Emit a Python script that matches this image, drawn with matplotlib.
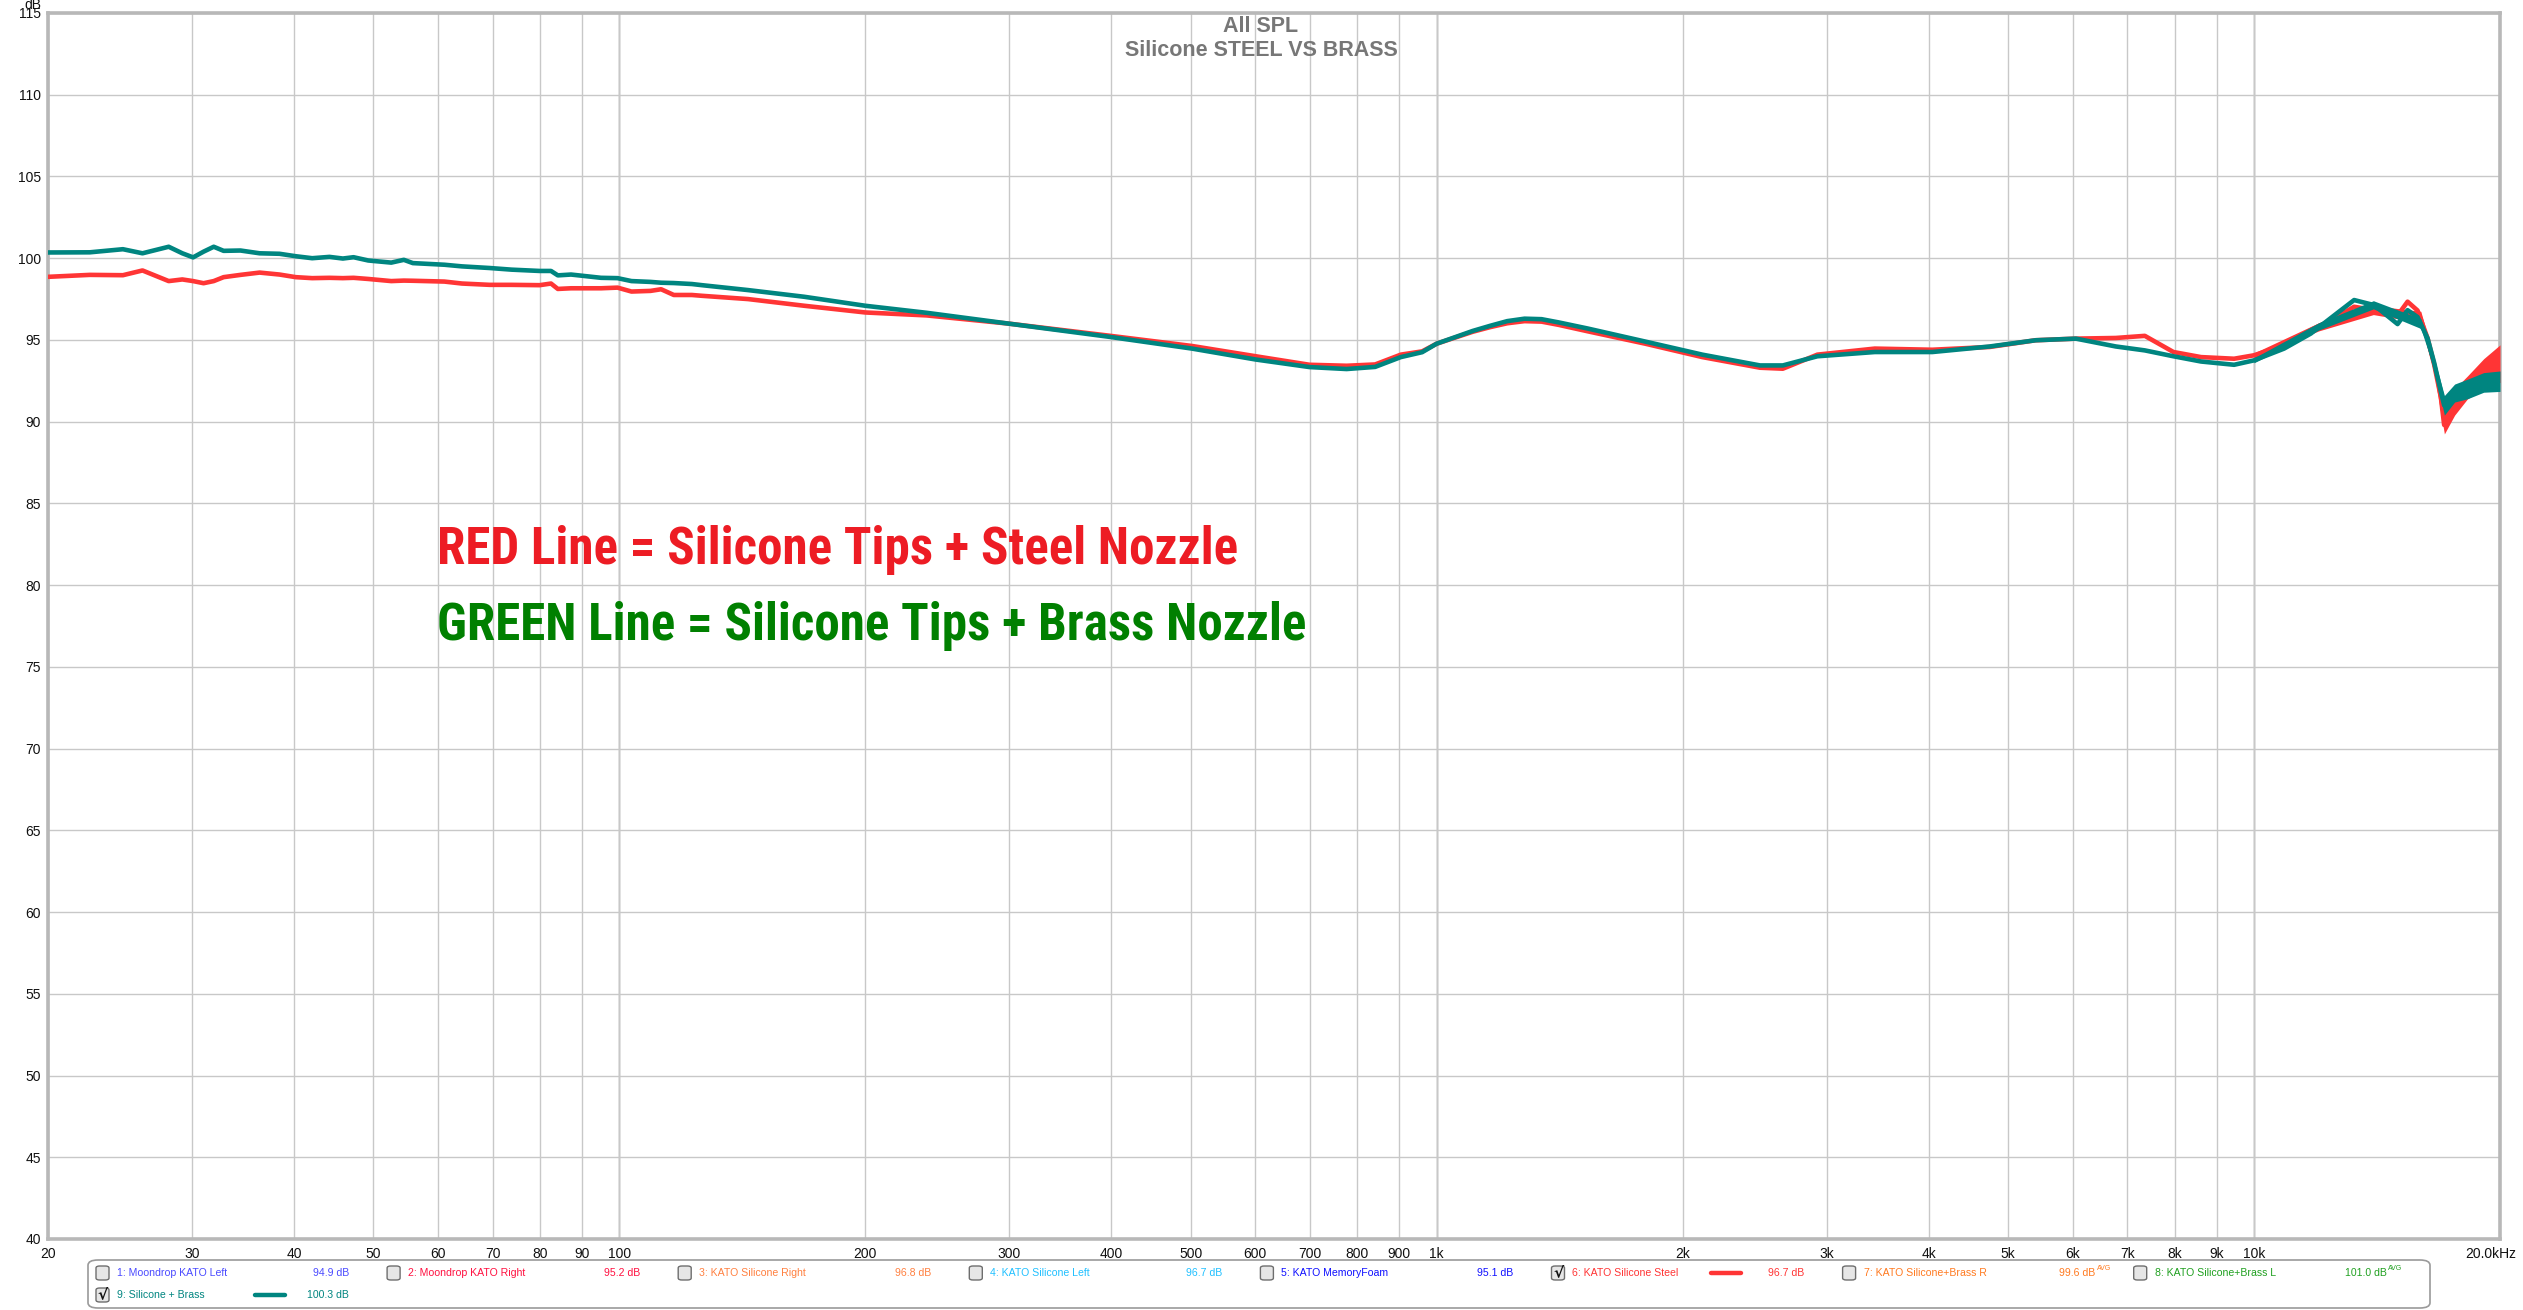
import matplotlib
matplotlib.use('Agg')
import matplotlib.pyplot as plt
from matplotlib import font_manager
from matplotlib.font_manager import FontProperties
from matplotlib.patches import FancyBboxPatch
from matplotlib.lines import Line2D
from matplotlib.ticker import NullLocator
import matplotlib.transforms as mtransforms

# ---------------- data ----------------
freq = [20, 22.5, 24.7, 26.1, 28.1, 29.2, 30.1, 31.0, 31.9, 32.8, 34.4, 36.3, 38.4, 40.2,
        42.1, 44.2, 45.9, 47.3, 49.3, 52.6, 54.5, 55.9, 61.1, 64.2, 69.4, 73.8, 79.9, 82.5,
        84.1, 87.3, 95.0, 99.5, 103.5, 109.2, 112.5, 116.6, 122.7, 126.2, 143.7, 168.4, 200,
        237.7, 299.3, 399, 502, 601, 699, 776, 841, 904, 960, 1000, 1107, 1162, 1220, 1281,
        1344, 1411, 1530, 1800, 2114, 2487, 2652, 2923, 3436, 4040, 4750, 5406, 6055, 6776,
        7353, 7971, 8615, 9456, 10000, 10886, 11737, 12536, 13260, 14030, 14987, 15415,
        15855, 16309, 16615, 16930, 17089, 17416, 17580, 18254, 19128, 20000]

brass_db = [100.35, 100.36, 100.55, 100.3, 100.7, 100.3, 100.05, 100.4, 100.7, 100.45, 100.47,
            100.3, 100.27, 100.12, 100.0, 100.08, 99.98, 100.06, 99.86, 99.73, 99.9, 99.7, 99.6,
            99.5, 99.4, 99.3, 99.22, 99.22, 98.95, 99.0, 98.8, 98.78, 98.6, 98.55, 98.5, 98.48,
            98.42, 98.35, 98.05, 97.64, 97.09, 96.66, 96.0, 95.18, 94.47, 93.8, 93.34, 93.22,
            93.35, 93.95, 94.25, 94.77, 95.55, 95.86, 96.15, 96.3, 96.27, 96.07, 95.7, 94.9,
            94.1, 93.44, 93.44, 94.0, 94.26, 94.26, 94.6, 94.98, 95.08, 94.6, 94.36, 94.0,
            93.68, 93.48, 93.75, 94.47, 95.39, 96.5, 97.44, 97.13, 95.97, 96.82, 96.4, 95.1,
            93.6, 91.84, 91.0, 91.7, 91.8, 91.95, 92.35, 92.5]

steel_db = [98.86, 98.98, 98.96, 99.25, 98.6, 98.7, 98.6, 98.47, 98.6, 98.84, 98.98, 99.12,
            99.0, 98.84, 98.78, 98.8, 98.78, 98.8, 98.73, 98.6, 98.63, 98.62, 98.57, 98.45,
            98.37, 98.37, 98.35, 98.45, 98.12, 98.16, 98.16, 98.2, 97.96, 98.0, 98.1, 97.75,
            97.75, 97.7, 97.5, 97.09, 96.68, 96.5, 96.0, 95.25, 94.63, 94.0, 93.48, 93.42, 93.5,
            94.1, 94.3, 94.77, 95.5, 95.78, 96.02, 96.15, 96.12, 95.92, 95.53, 94.77, 93.95,
            93.3, 93.24, 94.1, 94.47, 94.4, 94.57, 94.98, 95.08, 95.12, 95.25, 94.26, 93.95,
            93.85, 94.06, 94.67, 95.6, 96.3, 97.03, 96.82, 96.5, 97.34, 96.8, 95.1, 93.5, 91.5,
            89.8, 91.0, 91.2, 92.1, 93.1, 93.9]

# high-frequency noise envelope
hf_freq = [10000, 12000, 14000, 16000, 16600, 17100, 17600, 18250, 19100, 20000]
brass_lo = [93.6, 95.6, 96.9, 95.7, 93.25, 90.4, 91.2, 91.4, 91.8, 91.85]
brass_hi = [93.9, 96.05, 97.4, 96.3, 93.95, 91.6, 92.3, 92.6, 93.0, 93.1]
steel_lo = [93.9, 95.55, 96.55, 96.05, 93.05, 89.25, 90.4, 91.4, 92.0, 92.4]
steel_hi = [94.2, 96.05, 97.1, 96.75, 93.95, 90.8, 92.0, 92.8, 93.85, 94.7]

xtick_vals = [20, 30, 40, 50, 60, 70, 80, 90, 100, 200, 300, 400, 500, 600, 700, 800, 900,
              1000, 2000, 3000, 4000, 5000, 6000, 7000, 8000, 9000, 10000, 20000]
xtick_labels = ['20', '30', '40', '50', '60', '70', '80', '90', '100', '200', '300', '400',
                '500', '600', '700', '800', '900', '1k', '2k', '3k', '4k', '5k', '6k', '7k',
                '8k', '9k', '10k', '20.0kHz']
ytick_vals = list(range(40, 116, 5))

title_lines = ['All SPL', 'Silicone STEEL VS BRASS']
note_lines = ['RED Line = Silicone Tips + Steel Nozzle', 'GREEN Line = Silicone Tips + Brass Nozzle']

legend_names = ['1: Moondrop KATO Left', '2: Moondrop KATO Right', '3: KATO Silicone Right',
                '4: KATO Silicone Left', '5: KATO MemoryFoam', '6: KATO Silicone Steel',
                '7: KATO Silicone+Brass R', '8: KATO Silicone+Brass L', '9: Silicone + Brass']
legend_values = ['94.9 dB', '95.2 dB', '96.8 dB', '96.7 dB', '95.1 dB', '96.7 dB', '99.6 dB',
                 '101.0 dB', '100.3 dB']
legend_avg = [False, False, False, False, False, False, True, True, False]
legend_checked = [False, False, False, False, False, True, False, False, True]
legend_colors = ['#4a4aff', '#ff1040', '#ff8040', '#20c0ff', '#1010ff', '#ff3535',
                 '#ff7a20', '#20a020', '#008580']

RED = '#ff3535'
TEAL = '#008580'

# ---------------- fonts ----------------
W, H = 2523, 1310
ttfs = font_manager.fontManager.ttflist
avail = {f.name for f in ttfs}
NARROW = 'Liberation Sans Narrow' if 'Liberation Sans Narrow' in avail else 'Liberation Sans'
SANS = 'Liberation Sans'


def pick_condensed_bold():
    cands = []
    for f in ttfs:
        nm = f.name.lower()
        fn = f.fname.lower()
        narrowish = ('condensed' in nm or 'narrow' in nm or 'condensed' in fn or 'narrow' in fn
                     or str(f.stretch) in ('condensed', 'semi-condensed', 'extra-condensed'))
        w = f.weight if isinstance(f.weight, int) else {'bold': 700, 'semibold': 600,
                                                         'demibold': 600}.get(str(f.weight), 400)
        italic = f.style != 'normal'
        if narrowish and not italic and w >= 600:
            cands.append(f)
    if not cands:
        return FontProperties(family=SANS, weight='bold')
    order = ['roboto', 'open sans', 'noto sans', 'dejavu', 'liberation']

    def key(f):
        nm = f.name.lower()
        for i, o in enumerate(order):
            if o in nm:
                return i
        return len(order)
    cands.sort(key=key)
    return FontProperties(fname=cands[0].fname)


NOTE_FP = pick_condensed_bold()


def fx(px):
    return px / W


def fy(py):
    return 1 - py / H


fig = plt.figure(figsize=(W / 100, H / 100), dpi=100)
fig.patch.set_facecolor('white')
ax = fig.add_axes([fx(48), fy(1239), (2500 - 48) / W, (1239 - 13) / H])

ax.set_xscale('log')
ax.set_xlim(20, 20000)
ax.set_ylim(40, 115)

ax.fill_between(hf_freq, steel_lo, steel_hi, color=RED, lw=0, zorder=3)
ax.plot(freq, steel_db, color=RED, lw=3.3, solid_joinstyle='round', solid_capstyle='round', zorder=3)
ax.fill_between(hf_freq, brass_lo, brass_hi, color=TEAL, lw=0, zorder=4)
ax.plot(freq, brass_db, color=TEAL, lw=3.3, solid_joinstyle='round', solid_capstyle='round', zorder=4)

ax.set_xticks(xtick_vals)
ax.set_xticklabels(xtick_labels)
ax.xaxis.set_minor_locator(NullLocator())
ax.set_yticks(ytick_vals)
ax.set_yticklabels([str(v) for v in ytick_vals])
ax.tick_params(length=0, labelsize=10, colors='#111111')
ax.tick_params(axis='x', pad=6)
ax.tick_params(axis='y', pad=5)
for lbl in ax.get_xticklabels() + ax.get_yticklabels():
    lbl.set_fontfamily(NARROW)
last = ax.get_xticklabels()[-1]
last.set_ha('right')
last.set_transform(last.get_transform() + mtransforms.ScaledTranslation(16 / 100, 0, fig.dpi_scale_trans))

ax.set_axisbelow(True)
ax.grid(True, which='major', color='#c8c8c8', lw=1.0, zorder=0)
for v in (100, 1000, 10000):
    ax.axvline(v, color='#8a8a8a', lw=1.0, zorder=0.5)
for s in ax.spines.values():
    s.set_color('#b8b8b8')
    s.set_linewidth(2.6)

fig.text(fx(41), fy(5), 'dB', ha='right', va='center', fontsize=10, family=NARROW, color='#111111')

# title
fig.text(fx(1261), fy(26), title_lines[0], ha='center', va='center', fontsize=15.5,
         fontweight='bold', color='#777777', family=SANS)
fig.text(fx(1261), fy(50), title_lines[1], ha='center', va='center', fontsize=15.5,
         fontweight='bold', color='#777777', family=SANS)

# annotation lines (size fitted to the reference width, capped by reference height)
fig.canvas.draw()
renderer = fig.canvas.get_renderer()
probe_fp = NOTE_FP.copy()
probe_fp.set_size(40)
probe = fig.text(0, 0, note_lines[0], fontproperties=probe_fp)
wpx = probe.get_window_extent(renderer).width
probe.remove()
note_size = min(40 * 798 / wpx, 43)
em_px = note_size * 100 / 72
note_fp = NOTE_FP.copy()
note_fp.set_size(note_size)
for line, col, yc in ((note_lines[0], '#ed1c24', 546), (note_lines[1], '#008000', 622)):
    fig.text(fx(437), fy(yc + 0.36 * em_px), line, ha='left', va='baseline',
             fontproperties=note_fp, color=col)

# legend box
box = FancyBboxPatch((fx(88), fy(1308)), (2430 - 88) / W, (1308 - 1260) / H,
                     boxstyle='round,pad=0,rounding_size=0.004', transform=fig.transFigure,
                     facecolor='white', edgecolor='#9a9a9a', lw=1.2, zorder=5)
fig.patches.append(box)


def checkbox(x, yc, checked):
    cb = FancyBboxPatch((fx(x), fy(yc + 7)), 13 / W, 14 / H,
                        boxstyle='round,pad=0,rounding_size=0.0015', transform=fig.transFigure,
                        facecolor='#e6e6e6', edgecolor='#6e6e6e', lw=1.0, zorder=6)
    fig.patches.append(cb)
    if checked:
        fig.text(fx(x + 6.5), fy(yc), '√', ha='center', va='center', fontsize=11,
                 fontweight='bold', color='#111111', family='DejaVu Sans', zorder=7)


for i in range(9):
    if i < 8:
        x0 = 96 + 291.1 * i
        yc = 1273
    else:
        x0 = 96
        yc = 1295
    checkbox(x0, yc, legend_checked[i])
    col = legend_colors[i]
    fig.text(fx(x0 + 21), fy(yc), legend_names[i], ha='left', va='center', fontsize=7.6,
             color=col, family=SANS, zorder=7)
    fig.text(fx(x0 + 253), fy(yc), legend_values[i], ha='right', va='center', fontsize=7.6,
             color=col, family=SANS, zorder=7)
    if legend_avg[i]:
        fig.text(fx(x0 + 254), fy(yc - 4), 'AVG', ha='left', va='center', fontsize=5,
                 color=col, family=SANS, zorder=7)
    if legend_checked[i]:
        ln = Line2D([fx(x0 + 159), fx(x0 + 189)], [fy(yc), fy(yc)], transform=fig.transFigure,
                    color=col, lw=3.2, solid_capstyle='round', zorder=7)
        fig.lines.append(ln)

fig.savefig('out.png', dpi=100, facecolor='white')
